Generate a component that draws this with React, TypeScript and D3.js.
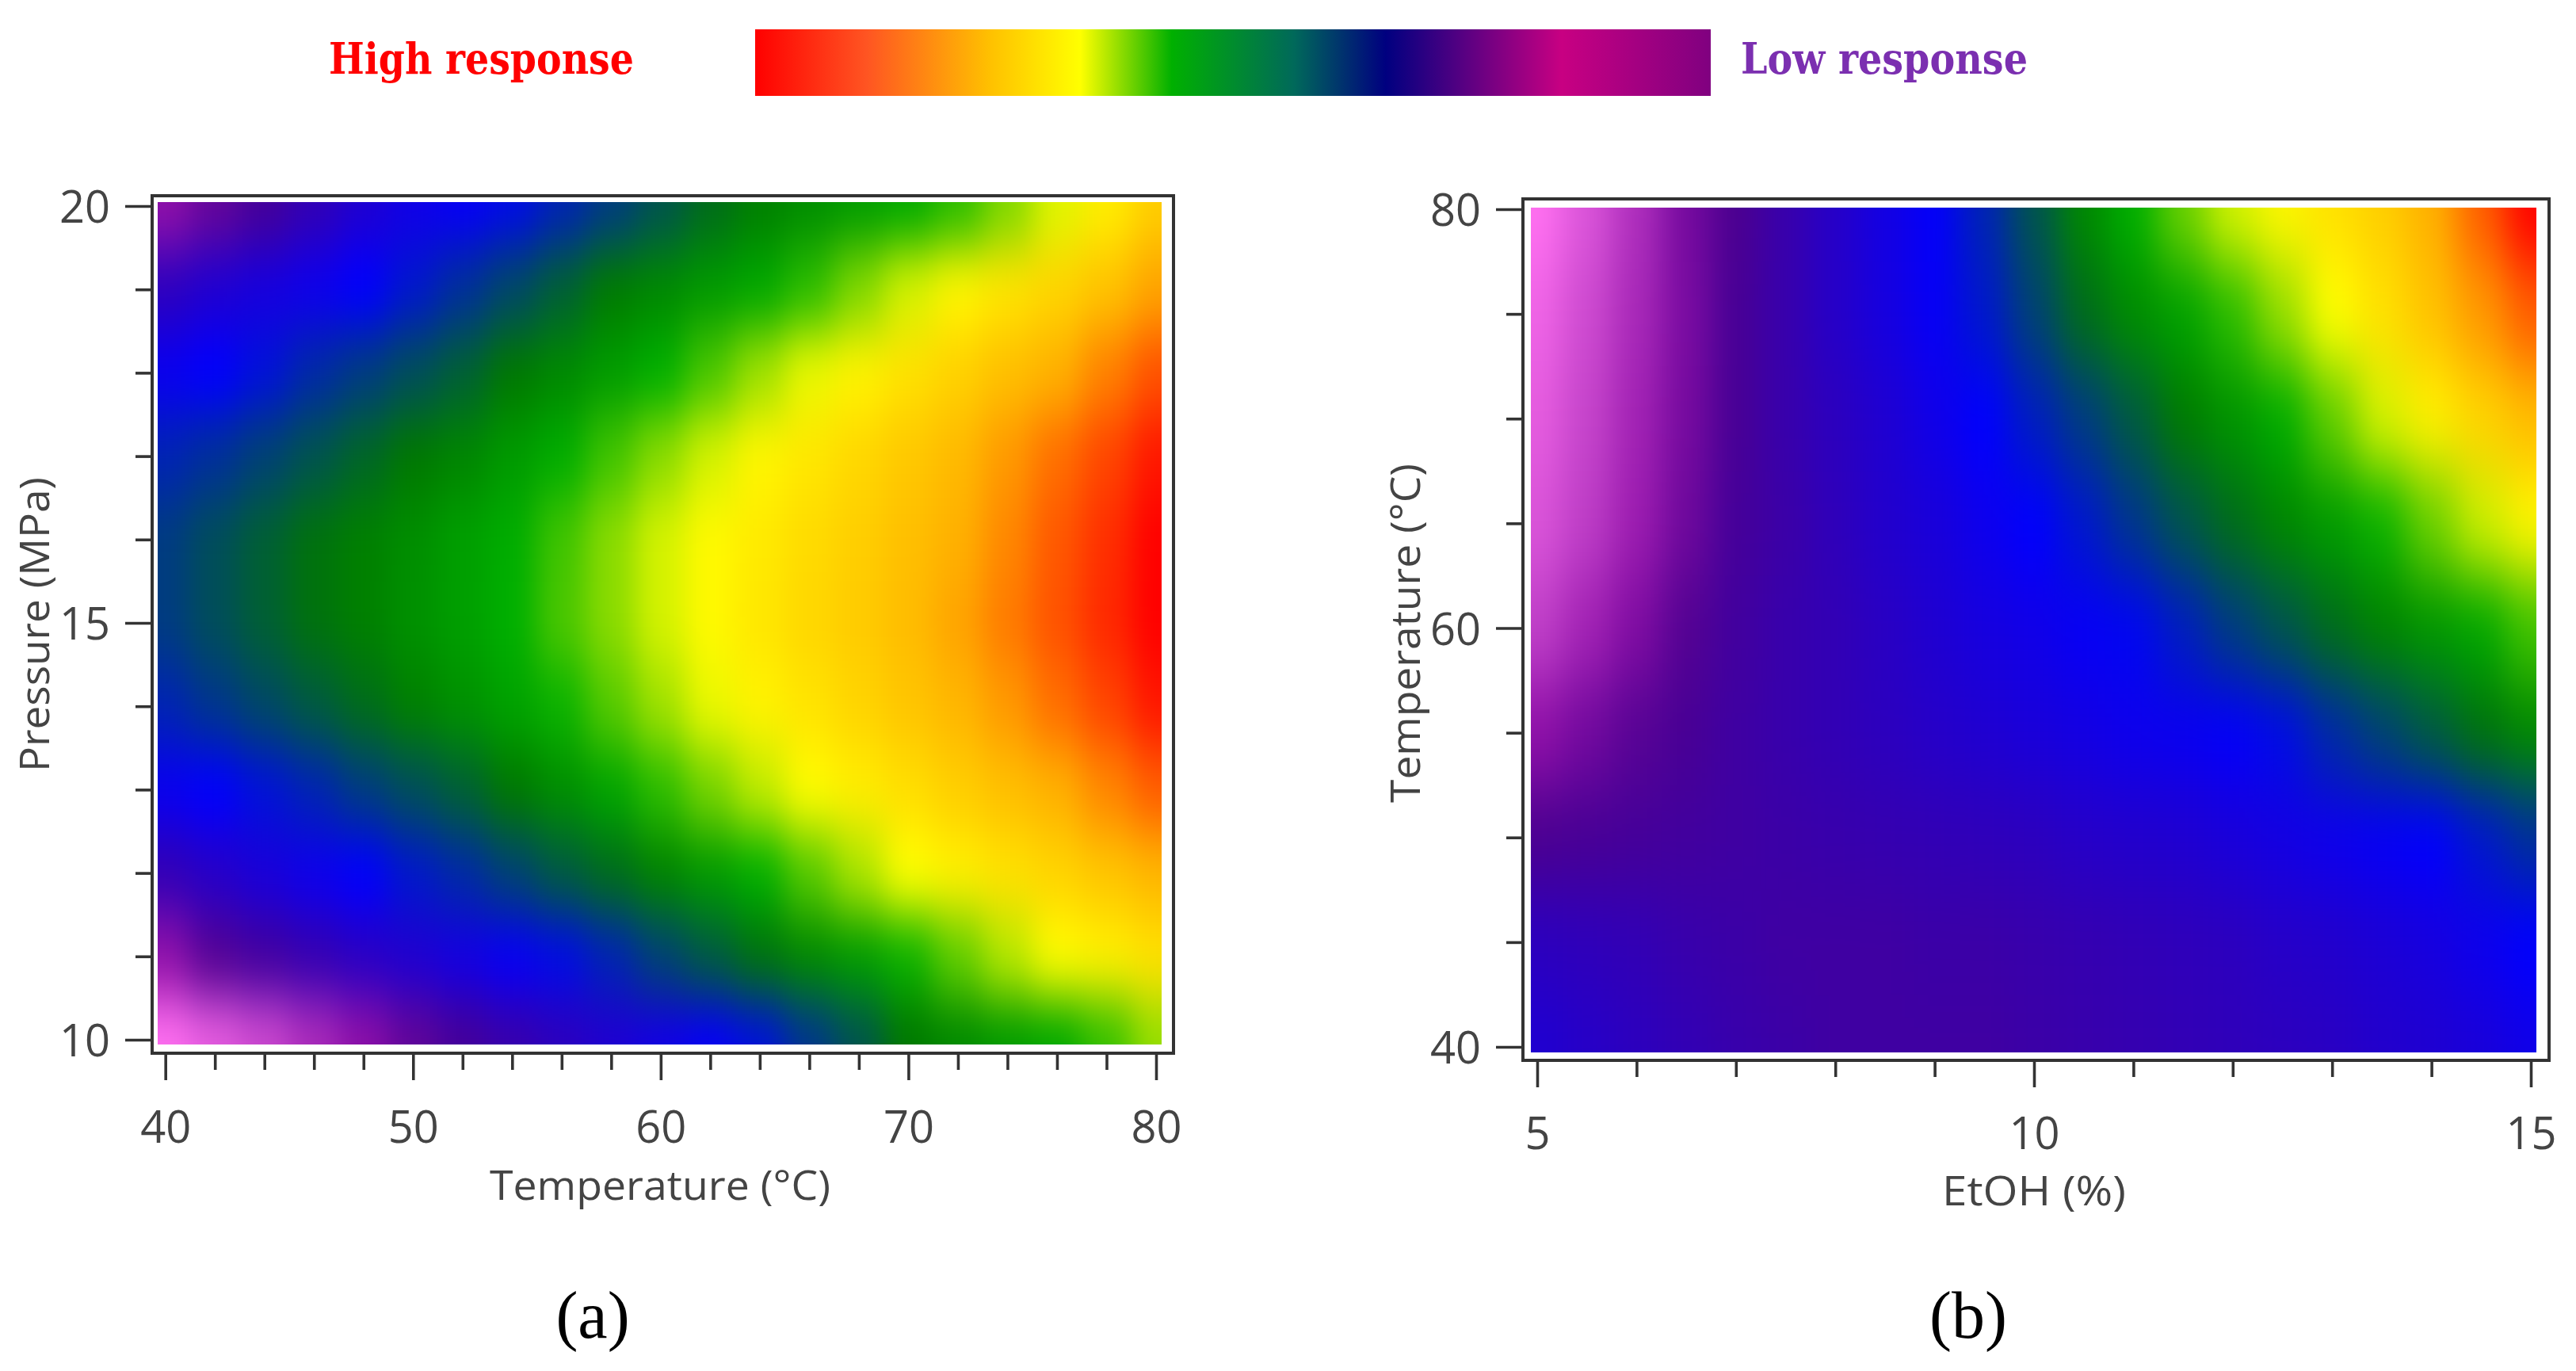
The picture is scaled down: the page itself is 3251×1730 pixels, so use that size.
import React, { useEffect, useRef } from "react";
import * as d3 from "d3";

const stopValues = [0, 0.12, 0.2, 0.28, 0.4, 0.5, 0.6, 0.72, 0.85, 1];
const stopColors = ["#ff70f0", "#c040c8", "#9010a8", "#4b0090", "#0000ff", "#007800", "#00b000", "#ffff00", "#ffb000", "#ff0000"];

const legendOffsets = [0, 0.117, 0.245, 0.34, 0.436, 0.564, 0.66, 0.73, 0.844, 1];
const legendColors = ["#ff0000", "#ff5522", "#ffc000", "#ffff00", "#00b000", "#00695a", "#000080", "#4b0082", "#c80082", "#800080"];

const temperatureCols = [40, 42, 44, 46, 48, 50, 52, 54, 56, 58, 60, 62, 64, 66, 68, 70, 72, 74, 76, 78, 80];
const pressureRows = [20, 19, 18, 17, 16, 15, 14, 13, 12, 11, 10];
const responseA = [
  [0.2, 0.25, 0.29, 0.32, 0.35, 0.375, 0.39, 0.41, 0.43, 0.45, 0.47, 0.49, 0.515, 0.54, 0.565, 0.59, 0.62, 0.66, 0.705, 0.75, 0.8],
  [0.33, 0.35, 0.365, 0.38, 0.4, 0.42, 0.44, 0.46, 0.48, 0.505, 0.53, 0.56, 0.585, 0.62, 0.66, 0.7, 0.735, 0.765, 0.79, 0.82, 0.86],
  [0.385, 0.4, 0.415, 0.435, 0.45, 0.465, 0.48, 0.5, 0.53, 0.565, 0.6, 0.635, 0.675, 0.71, 0.74, 0.77, 0.795, 0.825, 0.85, 0.89, 0.93],
  [0.43, 0.44, 0.455, 0.47, 0.485, 0.5, 0.525, 0.56, 0.595, 0.63, 0.665, 0.7, 0.735, 0.76, 0.785, 0.81, 0.835, 0.87, 0.905, 0.94, 0.98],
  [0.45, 0.465, 0.48, 0.495, 0.515, 0.54, 0.57, 0.595, 0.63, 0.665, 0.7, 0.73, 0.755, 0.78, 0.8, 0.825, 0.85, 0.885, 0.925, 0.96, 1],
  [0.45, 0.465, 0.48, 0.495, 0.515, 0.545, 0.57, 0.6, 0.635, 0.665, 0.7, 0.73, 0.76, 0.785, 0.805, 0.83, 0.86, 0.895, 0.93, 0.965, 1],
  [0.43, 0.445, 0.46, 0.475, 0.49, 0.515, 0.545, 0.575, 0.605, 0.64, 0.675, 0.71, 0.74, 0.765, 0.79, 0.815, 0.84, 0.87, 0.905, 0.94, 0.98],
  [0.385, 0.4, 0.415, 0.43, 0.45, 0.465, 0.48, 0.5, 0.54, 0.58, 0.62, 0.655, 0.69, 0.725, 0.75, 0.775, 0.8, 0.825, 0.85, 0.885, 0.92],
  [0.32, 0.34, 0.36, 0.38, 0.4, 0.42, 0.435, 0.455, 0.475, 0.49, 0.52, 0.56, 0.6, 0.64, 0.68, 0.72, 0.745, 0.77, 0.79, 0.815, 0.84],
  [0.2, 0.27, 0.295, 0.315, 0.335, 0.35, 0.37, 0.39, 0.41, 0.43, 0.455, 0.475, 0.495, 0.53, 0.565, 0.605, 0.645, 0.685, 0.725, 0.745, 0.77],
  [0, 0.05, 0.1, 0.155, 0.205, 0.255, 0.29, 0.31, 0.33, 0.35, 0.37, 0.39, 0.415, 0.445, 0.47, 0.5, 0.53, 0.56, 0.585, 0.625, 0.67],
];

const etohCols = [5, 5.5, 6, 6.5, 7, 7.5, 8, 8.5, 9, 9.5, 10, 10.5, 11, 11.5, 12, 12.5, 13, 13.5, 14, 14.5, 15];
const temperatureRows = [80, 75, 70, 65, 60, 55, 50, 45, 40];
const responseB = [
  [0, 0.07, 0.15, 0.23, 0.28, 0.31, 0.34, 0.37, 0.395, 0.43, 0.47, 0.53, 0.6, 0.65, 0.7, 0.735, 0.77, 0.8, 0.85, 0.92, 1],
  [0.03, 0.095, 0.16, 0.225, 0.285, 0.31, 0.34, 0.365, 0.39, 0.42, 0.455, 0.49, 0.535, 0.575, 0.62, 0.67, 0.72, 0.77, 0.82, 0.87, 0.92],
  [0.05, 0.11, 0.17, 0.23, 0.285, 0.31, 0.33, 0.35, 0.375, 0.4, 0.425, 0.45, 0.475, 0.505, 0.55, 0.595, 0.645, 0.7, 0.745, 0.79, 0.83],
  [0.07, 0.125, 0.18, 0.24, 0.29, 0.305, 0.325, 0.345, 0.36, 0.38, 0.4, 0.42, 0.445, 0.47, 0.49, 0.525, 0.565, 0.605, 0.65, 0.695, 0.735],
  [0.12, 0.17, 0.22, 0.27, 0.295, 0.31, 0.32, 0.335, 0.35, 0.365, 0.375, 0.39, 0.405, 0.425, 0.45, 0.47, 0.49, 0.52, 0.555, 0.585, 0.63],
  [0.2, 0.235, 0.265, 0.285, 0.3, 0.31, 0.32, 0.33, 0.34, 0.35, 0.36, 0.37, 0.38, 0.385, 0.395, 0.41, 0.435, 0.455, 0.475, 0.495, 0.53],
  [0.28, 0.285, 0.29, 0.295, 0.3, 0.305, 0.31, 0.315, 0.32, 0.325, 0.33, 0.34, 0.345, 0.35, 0.36, 0.37, 0.38, 0.39, 0.4, 0.42, 0.44],
  [0.33, 0.325, 0.32, 0.31, 0.305, 0.3, 0.3, 0.3, 0.305, 0.305, 0.31, 0.315, 0.32, 0.325, 0.33, 0.34, 0.345, 0.355, 0.365, 0.38, 0.4],
  [0.35, 0.34, 0.33, 0.32, 0.31, 0.305, 0.3, 0.3, 0.3, 0.3, 0.305, 0.31, 0.315, 0.32, 0.325, 0.33, 0.335, 0.345, 0.35, 0.36, 0.375],
];

const colorScale = d3.scaleLinear<string>().domain(stopValues).range(stopColors).interpolate(d3.interpolateRgb);

const fontSans = "'Open Sans', 'Noto Sans', sans-serif";

type PanelProps = {
  id: string;
  cols: number[];
  rows: number[];
  values: number[][];
  xDomain: [number, number];
  yDomain: [number, number];
  xRange: [number, number];
  yRange: [number, number];
  xMajor: number[];
  xMinor: number[];
  yMajor: number[];
  yMinor: number[];
  frame: { left: number; top: number; right: number; bottom: number };
  image: { left: number; top: number; right: number; bottom: number };
  blur: string;
  labelBaseline: number;
};

function Panel(props: PanelProps) {
  const { id, cols, rows, values, frame, image, blur } = props;
  const gAxis = useRef<SVGGElement>(null);

  const x = d3.scaleLinear().domain(props.xDomain).range(props.xRange);
  const y = d3.scaleLinear().domain(props.yDomain).range(props.yRange);

  // cell edges sit halfway between grid values, outer ones run past the clip
  const edges = (vals: number[], s: d3.ScaleLinear<number, number>) => {
    const out = [s(vals[0]) - (s(vals[1]) - s(vals[0])) * 4];
    for (let i = 1; i < vals.length; i++) out.push((s(vals[i - 1]) + s(vals[i])) / 2);
    out.push(s(vals[vals.length - 1]) + (s(vals[vals.length - 1]) - s(vals[vals.length - 2])) * 4);
    return out;
  };
  const xEdges = edges(cols, x);
  const yEdges = edges(rows, y);

  useEffect(() => {
    const g = d3.select(gAxis.current);
    g.selectAll("*").remove();

    const style = (sel: d3.Selection<any, any, any, any>) => {
      sel.select(".domain").remove();
      sel.selectAll("line").attr("stroke", "#333").attr("stroke-width", 3.6);
      sel.selectAll("text").attr("font-family", fontSans).attr("font-size", 56).attr("fill", "#444");
    };

    const xMajor = g.append("g").attr("transform", `translate(0,${frame.bottom})`)
      .call(d3.axisBottom(x).tickValues(props.xMajor).tickSize(34).tickFormat(d3.format("d") as any));
    style(xMajor);
    xMajor.selectAll("text").attr("y", props.labelBaseline).attr("dy", 0);

    const xMinor = g.append("g").attr("transform", `translate(0,${frame.bottom})`)
      .call(d3.axisBottom(x).tickValues(props.xMinor).tickSize(21).tickFormat(() => ""));
    style(xMinor);

    const yMajor = g.append("g").attr("transform", `translate(${frame.left},0)`)
      .call(d3.axisLeft(y).tickValues(props.yMajor).tickSize(34).tickFormat(d3.format("d") as any));
    style(yMajor);
    yMajor.selectAll("text").attr("x", -53).attr("dy", "0.37em");

    const yMinor = g.append("g").attr("transform", `translate(${frame.left},0)`)
      .call(d3.axisLeft(y).tickValues(props.yMinor).tickSize(21).tickFormat(() => ""));
    style(yMinor);
  }, []);

  return (
    <g>
      <defs>
        <clipPath id={`clip-${id}`}>
          <rect x={image.left} y={image.top} width={image.right - image.left} height={image.bottom - image.top} />
        </clipPath>
        <filter
          id={`soft-${id}`}
          filterUnits="userSpaceOnUse"
          x={0}
          y={0}
          width={3251}
          height={1730}
          colorInterpolationFilters="sRGB"
        >
          <feGaussianBlur stdDeviation={blur} />
        </filter>
      </defs>
      <g clipPath={`url(#clip-${id})`}>
        <g filter={`url(#soft-${id})`}>
          {values.map((row, r) =>
            row.map((v, c) => (
              <rect
                key={`${r}-${c}`}
                x={xEdges[c]}
                y={yEdges[r]}
                width={xEdges[c + 1] - xEdges[c] + 1}
                height={yEdges[r + 1] - yEdges[r] + 1}
                fill={colorScale(v)}
              />
            ))
          )}
        </g>
      </g>
      <rect
        x={frame.left}
        y={frame.top}
        width={frame.right - frame.left}
        height={frame.bottom - frame.top}
        fill="none"
        stroke="#333"
        strokeWidth={4}
      />
      <g ref={gAxis}></g>
    </g>
  );
}

export default function App() {
  return (
    <svg
      width={3251}
      height={1730}
      viewBox="0 0 3251 1730"
      style={{ position: "absolute", left: 0, top: 0, background: "#fff" }}
    >
      <defs>
        <linearGradient id="legendGrad" x1="0" x2="1" y1="0" y2="0">
          {legendOffsets.map((o, i) => (
            <stop key={o} offset={o} stopColor={legendColors[i]} />
          ))}
        </linearGradient>
      </defs>

      {/* legend */}
      <rect x={953} y={37} width={1206} height={84} fill="url(#legendGrad)" />
      <text
        x={415}
        y={93}
        fontFamily="'DejaVu Serif', serif"
        fontWeight="bold"
        fontSize={54}
        fill="#ff0000"
        textLength={385}
        lengthAdjust="spacingAndGlyphs"
      >
        High response
      </text>
      <text
        x={2197}
        y={93}
        fontFamily="'DejaVu Serif', serif"
        fontWeight="bold"
        fontSize={54}
        fill="#7b2fb0"
        textLength={362}
        lengthAdjust="spacingAndGlyphs"
      >
        Low response
      </text>

      <Panel
        id="a"
        cols={temperatureCols}
        rows={pressureRows}
        values={responseA}
        xDomain={[40, 80]}
        yDomain={[10, 20]}
        xRange={[208.7, 1459]}
        yRange={[1312, 260]}
        xMajor={[40, 50, 60, 70, 80]}
        xMinor={[42, 44, 46, 48, 52, 54, 56, 58, 62, 64, 66, 68, 72, 74, 76, 78]}
        yMajor={[10, 15, 20]}
        yMinor={[11, 12, 13, 14, 16, 17, 18, 19]}
        frame={{ left: 192, top: 247, right: 1481, bottom: 1329 }}
        image={{ left: 199, top: 255, right: 1466, bottom: 1318 }}
        blur="18 36"
        labelBaseline={113}
      />
      <Panel
        id="b"
        cols={etohCols}
        rows={temperatureRows}
        values={responseB}
        xDomain={[5, 15]}
        yDomain={[40, 80]}
        xRange={[1940, 3194]}
        yRange={[1321, 264]}
        xMajor={[5, 10, 15]}
        xMinor={[6, 7, 8, 9, 11, 12, 13, 14]}
        yMajor={[40, 60, 80]}
        yMinor={[45, 50, 55, 65, 70, 75]}
        frame={{ left: 1922, top: 251, right: 3217, bottom: 1338 }}
        image={{ left: 1932, top: 262, right: 3201, bottom: 1328 }}
        blur="20 44"
        labelBaseline={112}
      />

      {/* axis titles */}
      <text x={833} y={1514} textAnchor="middle" fontFamily={fontSans} fontSize={52} fill="#444" textLength={430} lengthAdjust="spacingAndGlyphs">
        Temperature (°C)
      </text>
      <text x={2567} y={1521} textAnchor="middle" fontFamily={fontSans} fontSize={52} fill="#444" textLength={232} lengthAdjust="spacingAndGlyphs">
        EtOH (%)
      </text>
      <text transform="translate(62,788) rotate(-90)" textAnchor="middle" fontFamily={fontSans} fontSize={52} fill="#444" textLength={372} lengthAdjust="spacingAndGlyphs">
        Pressure (MPa)
      </text>
      <text transform="translate(1792,799) rotate(-90)" textAnchor="middle" fontFamily={fontSans} fontSize={52} fill="#444" textLength={428} lengthAdjust="spacingAndGlyphs">
        Temperature (°C)
      </text>

      {/* captions */}
      <text x={748} y={1688} textAnchor="middle" fontFamily="'Liberation Serif', serif" fontSize={84} fill="#000">
        (a)
      </text>
      <text x={2484} y={1688} textAnchor="middle" fontFamily="'Liberation Serif', serif" fontSize={84} fill="#000">
        (b)
      </text>
    </svg>
  );
}
